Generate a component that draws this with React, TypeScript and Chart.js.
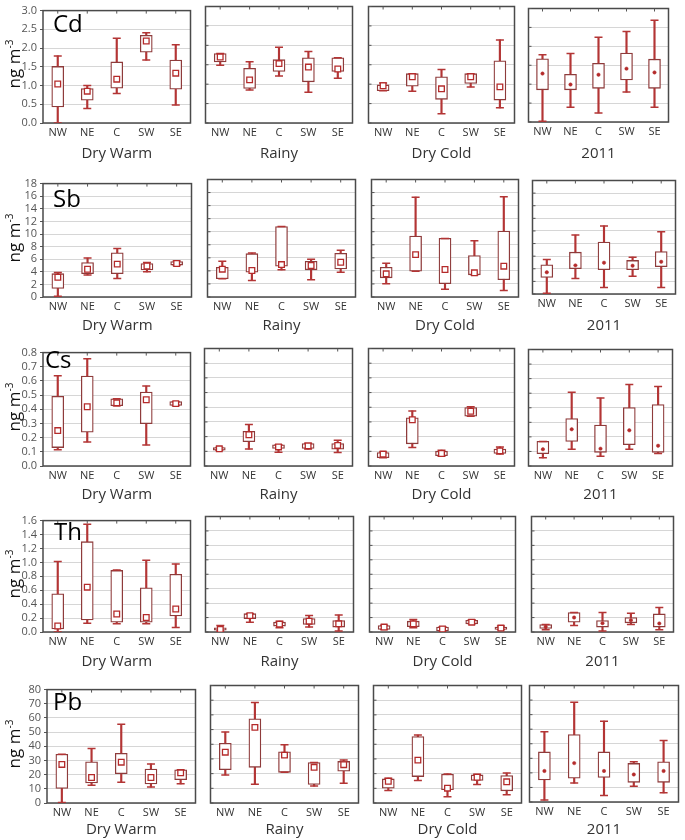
import React, { useEffect, useRef } from "react";
import { Chart, registerables } from "chart.js";
Chart.register(...registerables);

// ---------- data ----------
const regions = ["NW", "NE", "C", "SW", "SE"];
const seasons = ["Dry Warm", "Rainy", "Dry Cold", "2011"];

// Each array: rows = seasons (Dry Warm, Rainy, Dry Cold, 2011), cols = regions
const cdMin = [[0.0, 0.39, 0.79, 1.68, 0.48], [1.49, 0.85, 1.21, 0.79, 1.15], [0.83, 0.82, 0.24, 0.93, 0.39], [0.02, 0.39, 0.24, 0.79, 0.39]];
const cdQ1 = [[0.43, 0.61, 0.93, 1.89, 0.9], [1.57, 0.89, 1.33, 1.06, 1.33], [0.83, 0.95, 0.61, 1.02, 0.59], [0.85, 0.85, 0.89, 1.11, 0.89]];
const cdQ3 = [[1.51, 0.92, 1.63, 2.34, 1.68], [1.79, 1.41, 1.63, 1.68, 1.68], [0.98, 1.27, 1.19, 1.27, 1.6], [1.67, 1.26, 1.55, 1.82, 1.66]];
const cdMax = [[1.79, 1.0, 2.26, 2.41, 2.09], [1.79, 1.58, 1.95, 1.84, 1.68], [1.03, 1.27, 1.38, 1.27, 2.14], [1.78, 1.81, 2.24, 2.39, 2.69]];
const cdMid = [[1.04, 0.85, 1.17, 2.19, 1.33], [1.7, 1.11, 1.53, 1.44, 1.39], [0.96, 1.19, 0.88, 1.19, 0.93], [1.28, 0.99, 1.25, 1.41, 1.31]];
const cdTicks = [0, 0.5, 1, 1.5, 2, 2.5, 3];
const cdTickLabels = ["0.0", "0.5", "1.0", "1.5", "2.0", "2.5", "3.0"];

const sbMin = [[0.1, 3.5, 2.94, 4.0, 5.0], [2.79, 2.54, 4.16, 2.64, 3.8], [2.03, 3.96, 1.17, 3.4, 1.01], [0.1, 2.45, 1.04, 2.82, 1.04]];
const sbQ1 = [[1.37, 3.7, 3.7, 4.31, 5.07], [2.79, 3.8, 4.72, 4.16, 4.31], [2.94, 3.96, 2.03, 3.4, 2.64], [2.61, 4.02, 3.86, 3.86, 4.33]];
const sbQ3 = [[3.7, 5.48, 7.0, 5.32, 5.63], [4.56, 6.64, 10.8, 5.48, 6.69], [4.56, 9.33, 8.98, 6.34, 10.1], [4.64, 6.63, 8.24, 5.32, 6.73]];
const sbMax = [[3.9, 6.19, 7.71, 5.48, 5.7], [5.48, 6.74, 10.8, 5.78, 7.15], [5.17, 15.3, 8.98, 8.62, 15.36], [5.48, 9.34, 10.8, 5.84, 9.86]];
const sbMid = [[3.14, 4.41, 5.22, 4.92, 5.32], [4.26, 4.06, 4.97, 4.82, 5.32], [3.55, 6.49, 4.21, 3.7, 4.72], [3.44, 4.54, 4.96, 4.49, 5.11]];
const sbTicks = [0, 2, 4, 6, 8, 10, 12, 14, 16, 18];
const sbTickLabels = ["0", "2", "4", "6", "8", "10", "12", "14", "16", "18"];

const csMin = [[0.115, 0.169, 0.425, 0.148, 0.427], [0.108, 0.115, 0.094, 0.115, 0.092], [0.056, 0.126, 0.067, 0.339, 0.081], [0.056, 0.115, 0.067, 0.115, 0.085]];
const csQ1 = [[0.13, 0.238, 0.425, 0.299, 0.427], [0.108, 0.166, 0.119, 0.119, 0.115], [0.056, 0.151, 0.07, 0.339, 0.085], [0.085, 0.169, 0.094, 0.146, 0.094]];
const csQ3 = [[0.492, 0.634, 0.474, 0.521, 0.454], [0.126, 0.236, 0.144, 0.153, 0.153], [0.092, 0.328, 0.101, 0.398, 0.115], [0.169, 0.326, 0.281, 0.402, 0.422]];
const csMax = [[0.636, 0.757, 0.474, 0.564, 0.454], [0.126, 0.283, 0.144, 0.155, 0.175], [0.095, 0.375, 0.108, 0.404, 0.13], [0.169, 0.506, 0.467, 0.56, 0.546]];
const csMid = [[0.25, 0.418, 0.445, 0.467, 0.44], [0.117, 0.213, 0.13, 0.137, 0.14], [0.081, 0.315, 0.085, 0.373, 0.103], [0.115, 0.252, 0.119, 0.245, 0.139]];
const csTicks = [0, 0.1, 0.2, 0.3, 0.4, 0.5, 0.6, 0.7, 0.8];
const csTickLabels = ["0.0", "0.1", "0.2", "0.3", "0.4", "0.5", "0.6", "0.7", "0.8"];

const thMin = [[0.0, 0.127, 0.118, 0.118, 0.063], [0.014, 0.136, 0.059, 0.068, 0.014], [0.036, 0.059, 0.014, 0.113, 0.036], [0.032, 0.09, 0.014, 0.104, 0.032]];
const thQ1 = [[0.045, 0.172, 0.141, 0.141, 0.231], [0.025, 0.186, 0.082, 0.104, 0.068], [0.036, 0.073, 0.014, 0.113, 0.036], [0.05, 0.136, 0.068, 0.127, 0.068]];
const thQ3 = [[0.549, 1.297, 0.884, 0.635, 0.83], [0.059, 0.254, 0.136, 0.186, 0.159], [0.09, 0.15, 0.068, 0.163, 0.068], [0.104, 0.27, 0.159, 0.2, 0.25]];
const thMax = [[1.011, 1.546, 0.889, 1.029, 0.975], [0.09, 0.254, 0.15, 0.227, 0.236], [0.095, 0.172, 0.072, 0.168, 0.082], [0.104, 0.27, 0.27, 0.26, 0.34]];
const thMid = [[0.086, 0.644, 0.259, 0.209, 0.331], [0.036, 0.227, 0.109, 0.15, 0.113], [0.068, 0.113, 0.041, 0.136, 0.054], [0.073, 0.2, 0.122, 0.163, 0.118]];
const thTicks = [0, 0.2, 0.4, 0.6, 0.8, 1.0, 1.2, 1.4, 1.6];
const thTickLabels = ["0.0", "0.2", "0.4", "0.6", "0.8", "1.0", "1.2", "1.4", "1.6"];

const pbMin = [[0.4, 12.6, 14.6, 11.2, 13.5], [19.1, 12.8, 20.9, 11.5, 13.5], [8.5, 15.3, 4.3, 12.6, 5.6], [1.3, 13.0, 4.5, 10.8, 6.3]];
const pbQ1 = [[10.3, 14.2, 20.7, 13.5, 16.4], [22.7, 24.3, 20.9, 12.6, 21.6], [10.1, 18.0, 9.0, 15.3, 8.3], [15.1, 16.4, 16.9, 13.5, 13.5]];
const pbQ3 = [[34.4, 29.0, 35.1, 24.0, 23.4], [40.7, 57.3, 34.8, 27.6, 28.3], [16.4, 45.2, 19.6, 19.1, 18.7], [34.4, 46.3, 34.4, 26.5, 27.6]];
const pbMax = [[34.4, 38.4, 55.5, 27.6, 23.4], [48.3, 68.5, 39.6, 27.6, 29.2], [16.9, 46.3, 19.8, 19.6, 20.4], [48.3, 68.5, 55.5, 27.6, 42.2]];
const pbMid = [[27.2, 18.0, 28.8, 18.0, 21.3], [34.6, 51.5, 32.6, 24.3, 26.1], [14.8, 29.2, 10.1, 17.5, 14.4], [21.3, 26.7, 21.3, 18.9, 21.3]];
const pbTicks = [0, 10, 20, 30, 40, 50, 60, 70, 80];
const pbTickLabels = ["0", "10", "20", "30", "40", "50", "60", "70", "80"];

const elementRows = [
  { name: "Cd", min: cdMin, q1: cdQ1, q3: cdQ3, max: cdMax, mid: cdMid, ticks: cdTicks, tickLabels: cdTickLabels },
  { name: "Sb", min: sbMin, q1: sbQ1, q3: sbQ3, max: sbMax, mid: sbMid, ticks: sbTicks, tickLabels: sbTickLabels },
  { name: "Cs", min: csMin, q1: csQ1, q3: csQ3, max: csMax, mid: csMid, ticks: csTicks, tickLabels: csTickLabels },
  { name: "Th", min: thMin, q1: thQ1, q3: thQ3, max: thMax, mid: thMid, ticks: thTicks, tickLabels: thTickLabels },
  { name: "Pb", min: pbMin, q1: pbQ1, q3: pbQ3, max: pbMax, mid: pbMid, ticks: pbTicks, tickLabels: pbTickLabels },
];

// ---------- layout (page pixels: plot-area left, top, right, bottom) ----------
const rowPlots = [
  [[43, 5, 192, 123], [204, 5, 354, 123], [367, 5, 516, 123], [527, 7, 670, 122]],
  [[43, 178, 193, 297], [206, 178, 357, 297], [370, 178, 520, 297], [531, 179, 677, 294]],
  [[43, 347, 192, 466], [203, 347, 354, 466], [367, 347, 516, 466], [527, 348, 674, 466]],
  [[43, 515, 192, 632], [204, 515, 355, 632], [368, 515, 517, 632], [530, 515, 675, 632]],
  [[47, 684, 197, 803], [209, 684, 360, 803], [372, 684, 523, 803], [528, 684, 680, 802]],
];
const titleCenters = [154, 326, 495, 662, 830];
const labelPos = [[53, 11], [53, 186], [45, 347], [54, 519], [53, 689]];

const FONT = "'Open Sans', 'Noto Sans', sans-serif";
const BOX = "#8e3b3b";
const WHISKER = "#b33535";
const MARK = "#b52b2b";
const GRID = "#d6d6d6";
const FRAME = "#4a4a4a";

function makeFrame(innerY: boolean) {
  return {
    id: "frame",
    beforeDatasetsDraw(chart: any) {
      const { ctx, chartArea: a, scales } = chart;
      ctx.save();
      ctx.strokeStyle = FRAME;
      ctx.lineWidth = 1.5;
      ctx.strokeRect(a.left, a.top, a.right - a.left, a.bottom - a.top);
      ctx.lineWidth = 1;
      ctx.strokeStyle = "#555";
      ctx.beginPath();
      const xs = scales.x;
      for (let i = 0; i < xs.ticks.length; i++) {
        const px = xs.getPixelForTick(i);
        ctx.moveTo(px, a.top);
        ctx.lineTo(px, a.top + 3);
      }
      if (innerY) {
        const ys = scales.y;
        for (let i = 0; i < ys.ticks.length; i++) {
          const py = ys.getPixelForTick(i);
          ctx.moveTo(a.left, py);
          ctx.lineTo(a.left + 3, py);
        }
      }
      ctx.stroke();
      ctx.restore();
    },
  };
}

type PanelProps = {
  plot: number[];
  first: boolean;
  season: string;
  mins: number[];
  q1s: number[];
  q3s: number[];
  maxs: number[];
  mids: number[];
  ticks: number[];
  tickLabels: string[];
  titleCenter: number;
  dot: boolean;
};

function BoxPanel(p: PanelProps) {
  const ref = useRef<HTMLCanvasElement>(null);
  const [L, T, R, B] = p.plot;
  const yW = p.first ? 40 : 4;
  const xH = p.titleCenter + 9 - B;
  const padTop = 4;
  const padRight = 4;
  const left = L - yW;
  const top = T - padTop;
  const width = R + padRight - left;
  const height = B + xH - top;

  useEffect(() => {
    if (!ref.current) return;
    const step = p.ticks[1] - p.ticks[0];
    const chart = new Chart(ref.current, {
      type: "bar",
      data: {
        labels: regions,
        datasets: [
          {
            type: "bar",
            data: p.mins.map((v, i) => [v, p.maxs[i]]),
            backgroundColor: WHISKER,
            borderWidth: 0,
            barThickness: 1.5,
            grouped: false,
            order: 4,
          } as any,
          {
            type: "bar",
            data: p.q1s.map((v, i) => [v, p.q3s[i]]),
            backgroundColor: "#ffffff",
            borderColor: BOX,
            borderWidth: 1.3,
            borderSkipped: false,
            barThickness: 12,
            grouped: false,
            order: 3,
          } as any,
          {
            type: "line",
            data: p.maxs,
            showLine: false,
            pointStyle: "line",
            pointRadius: 4,
            pointBorderColor: WHISKER,
            pointBorderWidth: 1.5,
            order: 2,
          } as any,
          {
            type: "line",
            data: p.mins,
            showLine: false,
            pointStyle: "line",
            pointRadius: 4,
            pointBorderColor: WHISKER,
            pointBorderWidth: 1.5,
            order: 2,
          } as any,
          {
            type: "line",
            data: p.mids,
            showLine: false,
            pointStyle: p.dot ? "circle" : "rect",
            pointRadius: p.dot ? 1.7 : 4,
            pointBackgroundColor: p.dot ? MARK : "#ffffff",
            pointBorderColor: MARK,
            pointBorderWidth: p.dot ? 0.5 : 1.3,
            order: 1,
          } as any,
        ],
      },
      options: {
        responsive: false,
        animation: false,
        events: [],
        layout: { padding: { top: padTop, right: padRight, left: 0, bottom: 0 } },
        plugins: { legend: { display: false }, tooltip: { enabled: false } },
        scales: {
          x: {
            type: "category",
            offset: true,
            grid: { display: false, drawTicks: false },
            border: { display: false },
            ticks: {
              color: "#333",
              font: { family: FONT, size: 11 },
              padding: 3,
              maxRotation: 0,
              autoSkip: false,
            },
            title: {
              display: true,
              text: p.season,
              color: "#333",
              font: { family: FONT, size: 15 },
              padding: { top: 0, bottom: 0 },
            },
            afterFit: (s: any) => {
              s.height = xH;
            },
          },
          y: {
            type: "linear",
            min: p.ticks[0],
            max: p.ticks[p.ticks.length - 1],
            grid: {
              color: GRID,
              lineWidth: 1,
              drawTicks: p.first,
              tickLength: 3,
              tickColor: "#555",
            },
            border: { display: false },
            ticks: {
              display: p.first,
              autoSkip: false,
              stepSize: step,
              color: "#555",
              font: { family: FONT, size: 11 },
              padding: 3,
              callback: (_v: any, i: number) => p.tickLabels[i],
            },
            afterFit: (s: any) => {
              s.width = yW;
            },
          },
        },
      } as any,
      plugins: [makeFrame(!p.first)],
    });
    return () => chart.destroy();
  }, []);

  return (
    <canvas
      ref={ref}
      width={width}
      height={height}
      style={{ position: "absolute", left, top, width, height }}
    />
  );
}

export default function App() {
  return (
    <div
      style={{
        position: "absolute",
        left: 0,
        top: 0,
        width: 685,
        height: 840,
        background: "#ffffff",
        overflow: "hidden",
        fontFamily: FONT,
      }}
    >
      {elementRows.map((el, r) => {
        const plots = rowPlots[r];
        const mid = (plots[0][1] + plots[0][3]) / 2;
        return (
          <React.Fragment key={el.name}>
            {seasons.map((s, c) => (
              <BoxPanel
                key={s}
                plot={plots[c]}
                first={c === 0}
                season={s}
                mins={el.min[c]}
                q1s={el.q1[c]}
                q3s={el.q3[c]}
                maxs={el.max[c]}
                mids={el.mid[c]}
                ticks={el.ticks}
                tickLabels={el.tickLabels}
                titleCenter={titleCenters[r]}
                dot={c === 3}
              />
            ))}
            <div
              style={{
                position: "absolute",
                left: 14,
                top: mid,
                transform: "translate(-50%, -50%) rotate(-90deg)",
                whiteSpace: "nowrap",
                fontSize: 17,
                color: "#111",
                lineHeight: "20px",
              }}
            >
              ng m<sup style={{ fontSize: 10, verticalAlign: "7px", lineHeight: 0 }}>-3</sup>
            </div>
            <div
              style={{
                position: "absolute",
                left: labelPos[r][0],
                top: labelPos[r][1],
                fontSize: 24,
                lineHeight: "24px",
                color: "#000",
              }}
            >
              {el.name}
            </div>
          </React.Fragment>
        );
      })}
    </div>
  );
}
